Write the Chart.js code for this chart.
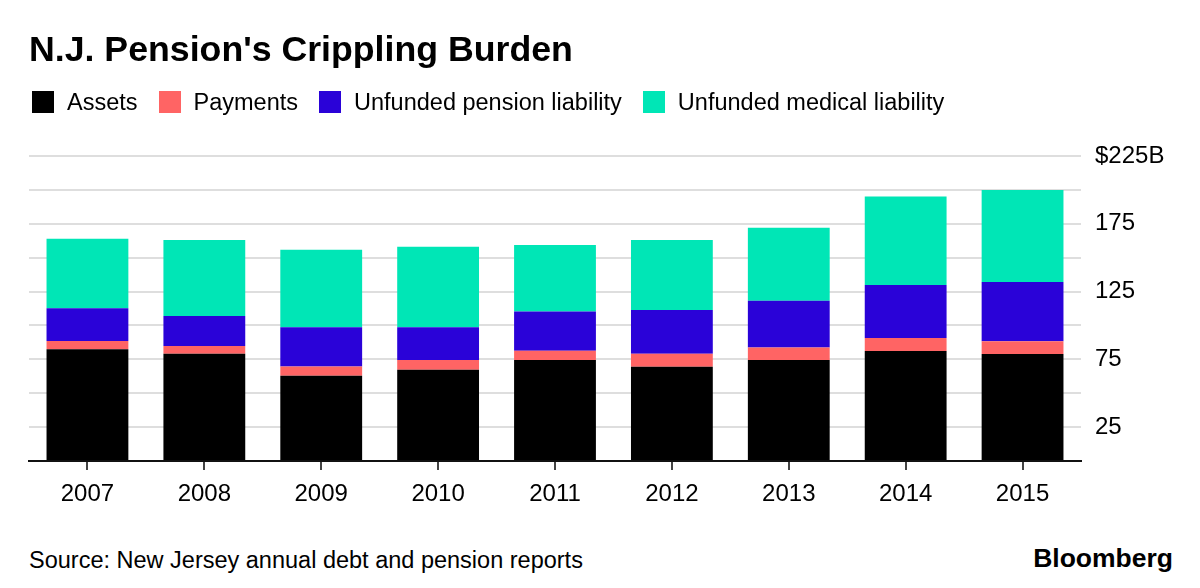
<!DOCTYPE html>
<html>
<head>
<meta charset="utf-8">
<script src="https://cdn.jsdelivr.net/npm/chart.js@4"></script>
<style>
  body { margin: 0; background: #fff; font-family: "Liberation Sans", Arial, sans-serif; color: #000; }
  #page { position: relative; width: 1200px; height: 588px; overflow: hidden; }
  #title { position: absolute; left: 29px; top: 32px; font-size: 35.7px; font-weight: bold; line-height: 1; white-space: nowrap; }
  #legend { position: absolute; left: 32px; top: 90px; height: 24px; display: flex; align-items: center; }
  .item { display: flex; align-items: center; margin-right: 21px; font-size: 23.5px; line-height: 24px; white-space: nowrap; }
  .swatch { width: 22px; height: 22px; margin-right: 13px; }
  #chartBox { position: absolute; left: 0; top: 0; width: 1200px; height: 520px; }
  #source { position: absolute; left: 29px; top: 549px; font-size: 23.5px; line-height: 1; white-space: nowrap; }
  #brand { position: absolute; right: 27px; top: 545px; font-size: 26.5px; font-weight: bold; line-height: 1; }
</style>
</head>
<body>
<div id="page">
  <div id="chartBox"><canvas id="pensionChart"></canvas></div>
  <div id="title">N.J. Pension's Crippling Burden</div>
  <div id="legend"></div>
  <div id="source">Source: New Jersey annual debt and pension reports</div>
  <div id="brand">Bloomberg</div>
</div>
<script>
// Données (en milliards de dollars)
const years = ["2007", "2008", "2009", "2010", "2011", "2012", "2013", "2014", "2015"];
const assets = [82.4, 79.1, 62.9, 67.3, 74.5, 69.5, 74.5, 81.1, 78.9];
const payments = [6.1, 5.7, 6.9, 7.2, 6.8, 9.6, 9.3, 9.6, 9.4];
const pensionLiability = [24.2, 22.2, 28.8, 24.1, 28.9, 32.3, 34.5, 39.2, 43.8];
const medicalLiability = [51.2, 56.0, 57.2, 59.4, 49.1, 51.6, 53.8, 65.3, 67.8];

const seriesNames = ["Assets", "Payments", "Unfunded pension liability", "Unfunded medical liability"];
const yTickValues = [25, 75, 125, 175, 225];
const yTickLabels = ["25", "75", "125", "175", "$225B"];

const colors = ["#000000", "#ff6464", "#2a02d8", "#00e6b6"];

document.addEventListener("DOMContentLoaded", () => {
    // Légende en HTML
    const legend = document.getElementById("legend");
    seriesNames.forEach((name, i) => {
        const item = document.createElement("div");
        item.className = "item";
        const sw = document.createElement("span");
        sw.className = "swatch";
        sw.style.background = colors[i];
        item.appendChild(sw);
        item.appendChild(document.createTextNode(name));
        legend.appendChild(item);
    });

    Chart.defaults.font.family = '"Liberation Sans", Arial, sans-serif';
    Chart.defaults.color = "#000";

    const seriesData = [assets, payments, pensionLiability, medicalLiability];
    const ctx = document.getElementById("pensionChart").getContext("2d");
    new Chart(ctx, {
        type: "bar",
        data: {
            labels: years,
            datasets: seriesData.map((d, i) => ({
                label: seriesNames[i],
                data: d,
                backgroundColor: colors[i],
                borderWidth: 0,
                barPercentage: 0.7,
                categoryPercentage: 1
            }))
        },
        options: {
            responsive: true,
            maintainAspectRatio: false,
            animation: false,
            layout: { padding: { left: 29, right: 0, top: 156, bottom: 0 } },
            plugins: {
                legend: { display: false },
                title: { display: false },
                tooltip: { enabled: false }
            },
            scales: {
                x: {
                    stacked: true,
                    grid: {
                        display: true,
                        drawOnChartArea: false,
                        drawTicks: true,
                        tickLength: 9,
                        offset: false,
                        color: "#444",
                        lineWidth: 2
                    },
                    border: { display: true, color: "#111", width: 2 },
                    ticks: { font: { size: 24 }, padding: 10, color: "#000" },
                    afterFit: (s) => { s.height = 59; }
                },
                y: {
                    stacked: true,
                    position: "right",
                    min: 0,
                    max: 225,
                    grid: { color: "#dedede", lineWidth: 2, drawTicks: false },
                    border: { display: false },
                    ticks: {
                        stepSize: 25,
                        padding: 14,
                        font: { size: 24 },
                        color: "#000",
                        callback: (v) => {
                            const idx = yTickValues.indexOf(v);
                            return idx >= 0 ? yTickLabels[idx] : "";
                        }
                    },
                    afterFit: (s) => { s.width = 119; }
                }
            }
        }
    });
});
</script>
</body>
</html>
